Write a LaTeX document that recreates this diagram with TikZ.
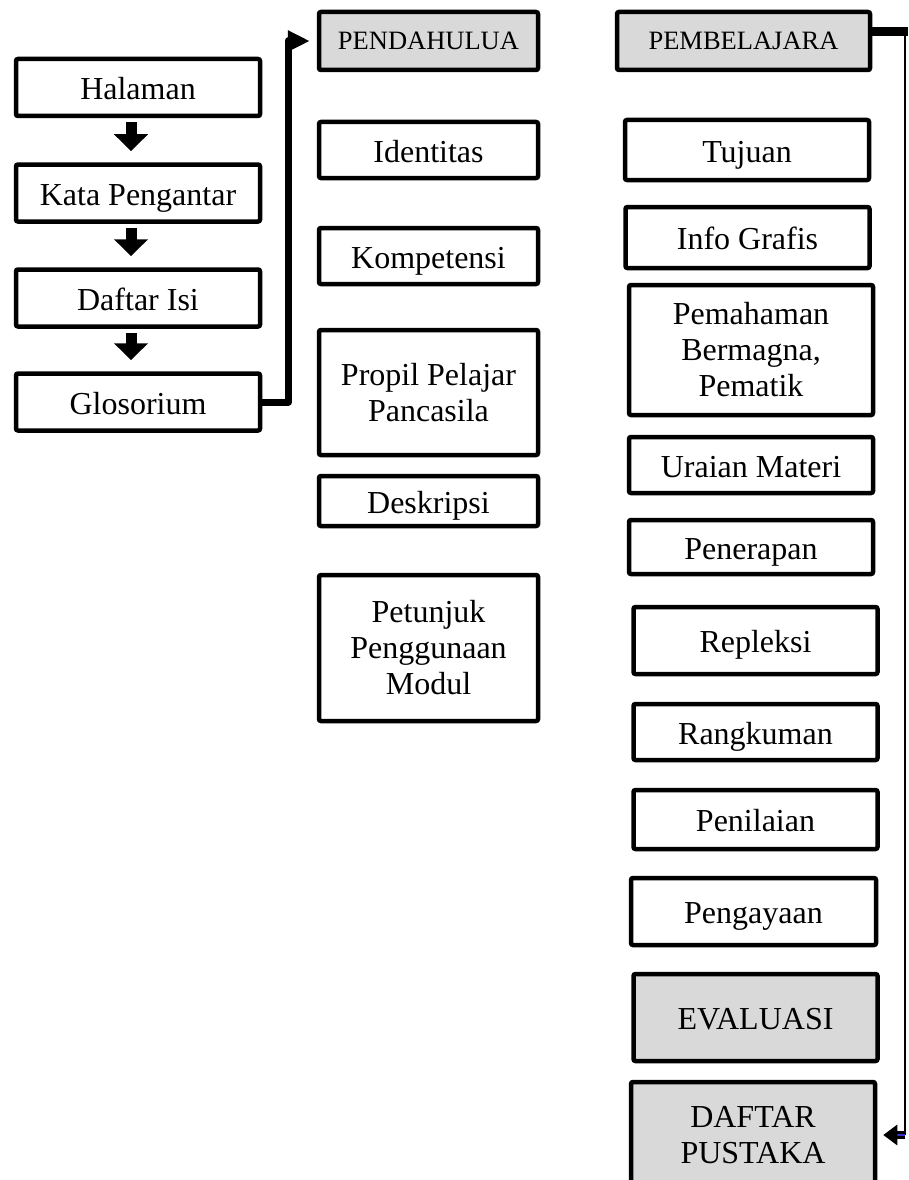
\documentclass[tikz,border=0pt]{standalone}
\usepackage{fontspec}
\setmainfont{Liberation Serif}
\usetikzlibrary{arrows.meta,positioning}

\definecolor{boxgray}{RGB}{217,217,217}

\begin{document}
\begin{tikzpicture}[
    x=1pt, y=-1pt,
    font=\fontsize{32}{36}\selectfont,
    box/.style={rectangle, rounded corners=2pt, draw=black, line width=4.5pt, fill=white,
      align=center, inner sep=2pt},
    graybox/.style={box, fill=boxgray},
    one/.style={text height=26pt, text depth=2pt},
    small/.style={font=\fontsize{26.5}{30}\selectfont, text height=20pt, text depth=2pt},
    lcol/.style={one, minimum width=244pt, minimum height=57pt},
    mcol/.style={minimum width=219pt},
    rcol/.style={minimum width=244pt},
    downarr/.style={-{Triangle[width=33pt,length=17pt]}, line width=11pt,
      shorten <=4pt, shorten >=11pt},
    link/.style={-{Triangle[width=20pt,length=22pt]}, line width=7pt, line join=round,
      shorten >=7pt},
    thinlink/.style={line width=1.5pt},
    backarr/.style={-{Triangle[width=20pt,length=14pt]}, draw=black, line width=3pt,
      double=blue!60!gray, double distance=1.5pt, shorten >=6pt}
  ]
  \useasboundingbox (0,0) rectangle (908,1180);

  % left column
  \node[box, lcol] (hal) at (138,87.5) {Halaman};
  \node[box, lcol] (kata) at (138,193) {Kata Pengantar};
  \node[box, lcol] (dafisi) at (138,298) {Daftar Isi};
  \node[box, lcol] (glos) at (138,402) {Glosorium};
  \draw[downarr] ([xshift=-7pt]hal.south) -- ([xshift=-7pt]kata.north);
  \draw[downarr] ([xshift=-7pt]kata.south) -- ([xshift=-7pt]dafisi.north);
  \draw[downarr] ([xshift=-7pt]dafisi.south) -- ([xshift=-7pt]glos.north);

  % pendahuluan column
  \node[graybox, small, mcol, minimum height=58pt] (pend) at (428.5,41) {PENDAHULUA};
  \node[box, one, mcol, minimum height=56pt] (iden) at (428.5,150) {Identitas};
  \node[box, one, mcol, minimum height=56pt] (komp) at (428.5,256) {Kompetensi};
  \node[box, mcol, minimum height=125pt] (propil) at (428.5,392.5) {Propil Pelajar\\Pancasila};
  \node[box, one, mcol, minimum height=50pt] (desk) at (428.5,501) {Deskripsi};
  \node[box, mcol, minimum height=146pt] (petunjuk) at (428.5,648) {Petunjuk\\Penggunaan\\Modul};
  \draw[link] (glos.east) -- ++(26,0) |- (pend.west);

  % pembelajaran column
  \node[graybox, small, minimum width=253pt, minimum height=58pt] (pemb) at (743.5,41) {PEMBELAJARA};
  \node[box, one, rcol, minimum height=60pt] (tujuan) at (747,150) {Tujuan};
  \node[box, one, rcol, minimum height=61pt] (info) at (747.5,237.5) {Info Grafis};
  \node[box, rcol, minimum height=130pt] (paham) at (751,350) {Pemahaman\\Bermagna,\\Pematik};
  \node[box, one, rcol, minimum height=56pt] (uraian) at (751,465) {Uraian Materi};
  \node[box, one, rcol, minimum height=54pt] (terap) at (751,547) {Penerapan};
  \node[box, one, rcol, minimum height=67pt] (refl) at (755.5,640.5) {Repleksi};
  \node[box, one, rcol, minimum height=56pt] (rangkum) at (755.5,732) {Rangkuman};
  \node[box, one, rcol, minimum height=59pt] (nilai) at (755.5,819.5) {Penilaian};
  \node[box, one, rcol, minimum width=245pt, minimum height=67pt] (kaya) at (753.5,911.5) {Pengayaan};
  \node[graybox, one, rcol, minimum height=87pt] (eval) at (755.5,1017.5) {EVALUASI};
  \node[graybox, rcol, minimum height=106pt] (pustaka) at (753,1135) {DAFTAR\\PUSTAKA};

  \coordinate (rtop) at (905,32);
  \coordinate (rbot) at (905,1135);
  \draw[line width=9pt] ([yshift=9pt]pemb.east) -- ([xshift=3pt]rtop);
  \draw[thinlink] (rtop) -- (rbot);
  \draw[backarr] (rbot) -- (pustaka.east |- rbot);
\end{tikzpicture}
\end{document}
